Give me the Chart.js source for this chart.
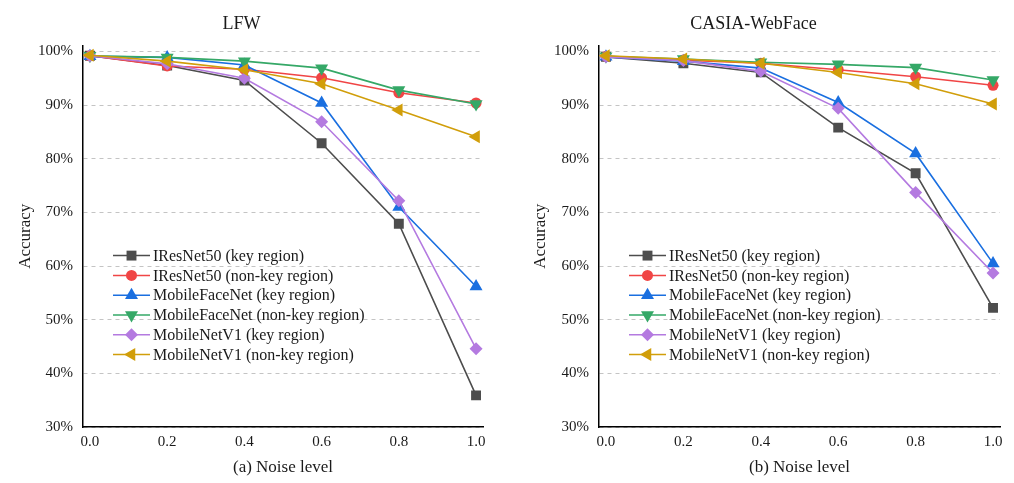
<!DOCTYPE html>
<html lang="en">
<head>
<meta charset="UTF-8">
<title>Noise level vs accuracy</title>
<script src="https://cdn.jsdelivr.net/npm/chart.js"></script>
<style>
  html, body { margin: 0; padding: 0; background: #fff; }
  .wrap { position: absolute; top: 0; width: 507px; height: 483px; }
  #left { left: 0; }
  #right { left: 507px; }
</style>
</head>
<body>
<div class="wrap" id="left"><canvas id="lfwChart"></canvas></div>
<div class="wrap" id="right"><canvas id="casiaChart"></canvas></div>
<script>
// data
const noiseLevels = [0.0, 0.2, 0.4, 0.6, 0.8, 1.0];
const seriesNames = [
  'IResNet50 (key region)',
  'IResNet50 (non-key region)',
  'MobileFaceNet (key region)',
  'MobileFaceNet (non-key region)',
  'MobileNetV1 (key region)',
  'MobileNetV1 (non-key region)'
];

// LFW
const lfwIResNetKey    = [99.2, 97.4, 94.6, 82.9, 67.9, 35.9];
const lfwIResNetNonKey = [99.2, 97.3, 96.7, 95.1, 92.3, 90.4];
const lfwMfnKey        = [99.1, 98.9, 97.5, 90.4, 71.0, 56.2];
const lfwMfnNonKey     = [99.2, 98.9, 98.2, 96.9, 92.8, 90.2];
const lfwMnKey         = [99.2, 97.7, 95.0, 86.9, 72.2, 44.6];
const lfwMnNonKey      = [99.3, 98.2, 96.6, 94.0, 89.1, 84.1];

// CASIA-WebFace
const casiaIResNetKey    = [99.0, 97.8, 96.1, 85.8, 77.3, 52.2];
const casiaIResNetNonKey = [99.1, 98.4, 97.8, 96.6, 95.3, 93.7];
const casiaMfnKey        = [99.0, 98.2, 96.9, 90.5, 81.0, 60.5];
const casiaMfnNonKey     = [99.1, 98.6, 98.0, 97.6, 97.0, 94.7];
const casiaMnKey         = [99.0, 98.3, 96.3, 89.4, 73.7, 58.7];
const casiaMnNonKey      = [99.2, 98.6, 97.8, 96.1, 94.0, 90.2];

const FONT = '"Liberation Serif", "Times New Roman", serif';
const TEXT = '#1a1a1a';

const styles = [
  { color: '#4d4d4d', point: 'rect',     rotation: 0,   radius: 7 },
  { color: '#f04545', point: 'circle',   rotation: 0,   radius: 5.5 },
  { color: '#1a6fe0', point: 'triangle', rotation: 0,   radius: 7.5 },
  { color: '#35a867', point: 'triangle', rotation: 180, radius: 7.5 },
  { color: '#b47ae0', point: 'rectRot',  rotation: 0,   radius: 6.5 },
  { color: '#d19e0a', point: 'triangle', rotation: -90, radius: 7.5 }
];

// legend drawn inside the plot area, like the original figure
const innerLegend = {
  id: 'innerLegend',
  afterDraw(chart) {
    const ctx = chart.ctx;
    const area = chart.chartArea;
    const x0 = area.left + 30;
    const x1 = area.left + 67;
    const xm = (x0 + x1) / 2;
    let y = area.top + 210;
    ctx.save();
    ctx.font = '16px ' + FONT;
    ctx.textBaseline = 'middle';
    chart.data.datasets.forEach((ds) => {
      ctx.strokeStyle = ds.borderColor;
      ctx.lineWidth = 1.5;
      ctx.beginPath();
      ctx.moveTo(x0, y);
      ctx.lineTo(x1, y);
      ctx.stroke();
      ctx.fillStyle = ds.backgroundColor;
      Chart.helpers.drawPoint(ctx, {
        pointStyle: ds.pointStyle,
        rotation: ds.pointRotation,
        radius: ds.pointRadius,
        borderWidth: 0
      }, xm, y);
      ctx.fillStyle = TEXT;
      ctx.fillText(ds.label, x1 + 3, y + 1);
      y += 19.8;
    });
    ctx.restore();
  }
};

function makeChart(id, title, xTitle, series, layout) {
  const datasets = series.map((vals, i) => ({
    label: seriesNames[i],
    data: noiseLevels.map((x, j) => ({ x: x, y: vals[j] })),
    borderColor: styles[i].color,
    backgroundColor: styles[i].color,
    borderWidth: 1.6,
    pointStyle: styles[i].point,
    pointRotation: styles[i].rotation,
    pointRadius: styles[i].radius,
    pointBorderWidth: 0,
    order: 5 - i
  }));

  return new Chart(document.getElementById(id), {
    type: 'line',
    data: { datasets },
    plugins: [innerLegend],
    options: {
      responsive: true,
      maintainAspectRatio: false,
      animation: false,
      layout: { padding: { left: 0, right: layout.padRight, top: 0, bottom: 0 } },
      plugins: {
        legend: { display: false },
        tooltip: { enabled: false },
        title: {
          display: true,
          text: title,
          color: TEXT,
          font: { family: FONT, size: 18, weight: 'normal' },
          padding: { top: 13, bottom: 11 }
        }
      },
      scales: {
        x: {
          type: 'linear',
          min: -0.018,
          max: 1.018,
          grid: { display: false, drawTicks: false },
          border: { display: true, color: '#000', width: 1.5 },
          ticks: {
            stepSize: 0.2,
            includeBounds: false,
            padding: 6,
            color: TEXT,
            font: { family: FONT, size: 15 },
            callback: (v) => v.toFixed(1)
          },
          title: {
            display: true,
            text: xTitle,
            color: TEXT,
            font: { family: FONT, size: 17 },
            padding: { top: 0, bottom: 5 }
          },
          afterFit: (scale) => { scale.height = 56; }
        },
        y: {
          min: 30,
          max: 101.1,
          grid: {
            color: '#c4c4c4',
            lineWidth: 1,
            drawTicks: false
          },
          border: { display: true, color: '#000', width: 1.5, dash: [4, 4] },
          ticks: {
            stepSize: 10,
            includeBounds: false,
            padding: 10,
            color: TEXT,
            font: { family: FONT, size: 15 },
            callback: (v) => v + '%'
          },
          title: {
            display: true,
            text: 'Accuracy',
            color: TEXT,
            font: { family: FONT, size: 17 },
            padding: { top: layout.titlePad, bottom: 0 }
          },
          afterFit: (scale) => { scale.width = layout.axisLeft; }
        }
      }
    }
  });
}

makeChart('lfwChart', 'LFW', '(a) Noise level',
  [lfwIResNetKey, lfwIResNetNonKey, lfwMfnKey, lfwMfnNonKey, lfwMnKey, lfwMnNonKey],
  { axisLeft: 83, padRight: 24, titlePad: 15 });

makeChart('casiaChart', 'CASIA-WebFace', '(b) Noise level',
  [casiaIResNetKey, casiaIResNetNonKey, casiaMfnKey, casiaMfnNonKey, casiaMnKey, casiaMnNonKey],
  { axisLeft: 92, padRight: 14, titlePad: 23 });
</script>
</body>
</html>
